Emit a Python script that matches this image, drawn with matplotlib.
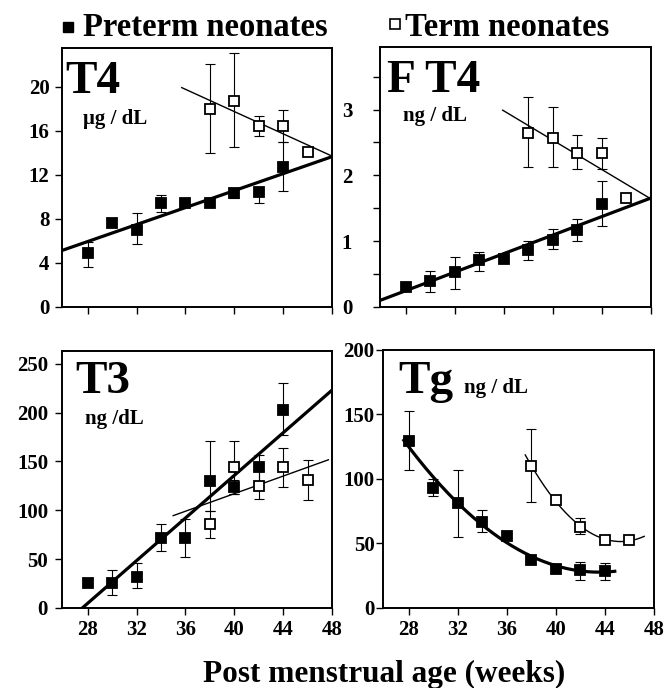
import numpy as np
import matplotlib
matplotlib.use('Agg')
import matplotlib.pyplot as plt
from matplotlib.lines import Line2D
from matplotlib.ticker import MultipleLocator

nan = np.nan

# post menstrual age (weeks)
pre_weeks = [28, 30, 32, 34, 36, 38, 40, 42, 44]
term_weeks = [38, 40, 42, 44, 46]

# T4 (ug/dL)
t4_pre = [4.9, 7.6, 7.0, 9.4, 9.45, 9.4, 10.3, 10.4, 12.7]
t4_pre_lo = [3.6, nan, 5.7, 8.6, nan, nan, 9.9, 9.4, 10.5]
t4_pre_hi = [5.9, nan, 8.5, 10.2, nan, nan, 10.7, 10.6, 15.0]
t4_term = [18.0, 18.7, 16.4, 16.4, 14.1]
t4_term_lo = [14.0, 14.5, 15.5, 15.0, nan]
t4_term_hi = [22.0, 23.0, 17.3, 17.9, nan]

# free T4 (ng/dL)
ft4_pre = [0.31, 0.40, 0.53, 0.71, 0.73, 0.87, 1.02, 1.17, 1.56]
ft4_pre_lo = [nan, 0.23, 0.28, 0.55, nan, 0.72, 0.88, 1.01, 1.23]
ft4_pre_hi = [nan, 0.55, 0.76, 0.84, nan, 1.01, 1.18, 1.34, 1.92]
ft4_term = [2.65, 2.57, 2.34, 2.34, 1.65]
ft4_term_lo = [2.12, 2.12, 2.09, 2.10, nan]
ft4_term_hi = [3.19, 3.04, 2.61, 2.56, nan]

# T3 (ng/dL)
t3_pre = [25.5, 25.5, 32, 72, 72, 130, 124, 144.5, 203]
t3_pre_lo = [nan, 13.6, 20, 58.5, 52, 99, 117, 130, 177]
t3_pre_hi = [nan, 39, 46, 86, 91, 171, 131, 157, 230]
t3_term = [86, 144, 125, 144, 131]
t3_term_lo = [72, 117, 112, 124, 111]
t3_term_hi = [99, 171, 140, 164, 151]

# Tg (ng/dL)
tg_pre = [129.5, 93, 81.3, 67, 56, 37.4, 30.2, 29.2, 28.4]
tg_pre_lo = [106.6, 86.5, 55, 59, nan, nan, nan, 22, 21.4]
tg_pre_hi = [153, 100, 106.6, 76, nan, nan, nan, 36, 35]
tg_term = [109.7, 83.9, 62.7, 52.9, 52.4]
tg_term_lo = [82, nan, 57.5, nan, nan]
tg_term_hi = [138.6, nan, 69.7, nan, nan]

# weeks covered by the fitted lines
t4_span = [(26, 48), (35.7, 48)]
ft4_span = [(26, 48), (35.9, 48)]
t3_span = [(26, 48), (35.0, 47.7)]
tg_span = [(27.6, 44.8), (37.5, 47.2)]

plt.rcParams['font.family'] = ['Liberation Serif', 'DejaVu Serif']
plt.rcParams['font.weight'] = 'bold'

fig = plt.figure(figsize=(6.66, 6.88), dpi=100)


def draw_series(ax, weeks, y, lo, hi, span, deg, filled):
    w = np.array(weeks, dtype=float)
    y = np.array(y, dtype=float)
    lo = np.array(lo, dtype=float)
    hi = np.array(hi, dtype=float)
    # fitted line / curve
    coef = np.polyfit(w, y, deg)
    xs = np.linspace(span[0], span[1], 200)
    ax.plot(xs, np.polyval(coef, xs), color='black',
            lw=2.3 if filled else 1.0, zorder=2)
    m = ~np.isnan(lo)
    ax.errorbar(w[m], y[m], yerr=[y[m] - lo[m], hi[m] - y[m]], fmt='none',
                ecolor='black', elinewidth=0.8, capsize=3.5, capthick=0.8, zorder=1)
    ax.plot(w, y, ls='none', marker='s', ms=6.5,
            mfc='black' if filled else 'white', mec='black', mew=1.3, zorder=3)


def panel(rect, pre, term, span, deg, ylim, ystep, name, unit, name_pos, unit_pos,
          xlabels, ypad, ysub=None):
    ax = fig.add_axes(rect)
    draw_series(ax, pre_weeks, *pre, span[0], deg, True)
    draw_series(ax, term_weeks, *term, span[1], deg, False)
    ax.set_xlim(25.9, 48)
    ax.set_ylim(*ylim)
    ax.set_xticks([28, 32, 36, 40, 44, 48])
    ax.yaxis.set_major_locator(MultipleLocator(ystep))
    if ysub:
        ax.yaxis.set_minor_locator(MultipleLocator(ysub))
        ax.tick_params(axis='y', which='minor', direction='out', length=5, width=1)
    ax.tick_params(direction='out', length=5, width=1, labelsize=15)
    ax.tick_params(axis='y', pad=ypad)
    ax.tick_params(axis='x', pad=4, labelbottom=xlabels)
    for s in ax.spines.values():
        s.set_linewidth(1.4)
    ax.text(name_pos[0], name_pos[1], name, transform=ax.transAxes,
            fontsize=34, va='baseline')
    ax.text(unit_pos[0], unit_pos[1], unit, transform=ax.transAxes,
            fontsize=15, va='baseline')
    return ax


panel([0.0931, 0.5538, 0.4054, 0.3765],
      (t4_pre, t4_pre_lo, t4_pre_hi), (t4_term, t4_term_lo, t4_term_hi),
      t4_span, 1, (0, 23.5), 4, 'T4', '\u03bcg / dL', (0.011, 0.825), (0.078, 0.707),
      False, 4)
panel([0.5706, 0.5538, 0.4069, 0.3779],
      (ft4_pre, ft4_pre_lo, ft4_pre_hi), (ft4_term, ft4_term_lo, ft4_term_hi),
      ft4_span, 1, (0, 3.95), 1, 'F T4', 'ng / dL', (0.026, 0.828), (0.084, 0.715),
      False, 15, ysub=0.5)
panel([0.0931, 0.1163, 0.4054, 0.3735],
      (t3_pre, t3_pre_lo, t3_pre_hi), (t3_term, t3_term_lo, t3_term_hi),
      t3_span, 1, (0, 263), 50, 'T3', 'ng /dL', (0.048, 0.835), (0.085, 0.716),
      True, 5)
panel([0.5751, 0.1163, 0.4069, 0.375],
      (tg_pre, tg_pre_lo, tg_pre_hi), (tg_term, tg_term_lo, tg_term_hi),
      tg_span, 2, (0, 200), 50, 'Tg', 'ng / dL', (0.056, 0.832), (0.30, 0.833),
      True, 1)

# legend on top
fig.add_artist(Line2D([0.1026], [0.961], transform=fig.transFigure, ls='none',
                      marker='s', ms=6.5, color='black'))
fig.add_artist(Line2D([0.5926], [0.9656], transform=fig.transFigure, ls='none',
                      marker='s', ms=7, mfc='white', mec='black', mew=1.2))
fig.text(0.124, 0.948, 'Preterm neonates', fontsize=23.5, va='baseline')
fig.text(0.608, 0.948, 'Term neonates', fontsize=23.5, va='baseline')

fig.text(0.577, 0.008, 'Post menstrual age (weeks)', ha='center', va='baseline',
         fontsize=22.5)

fig.savefig('out.png', dpi=100)
